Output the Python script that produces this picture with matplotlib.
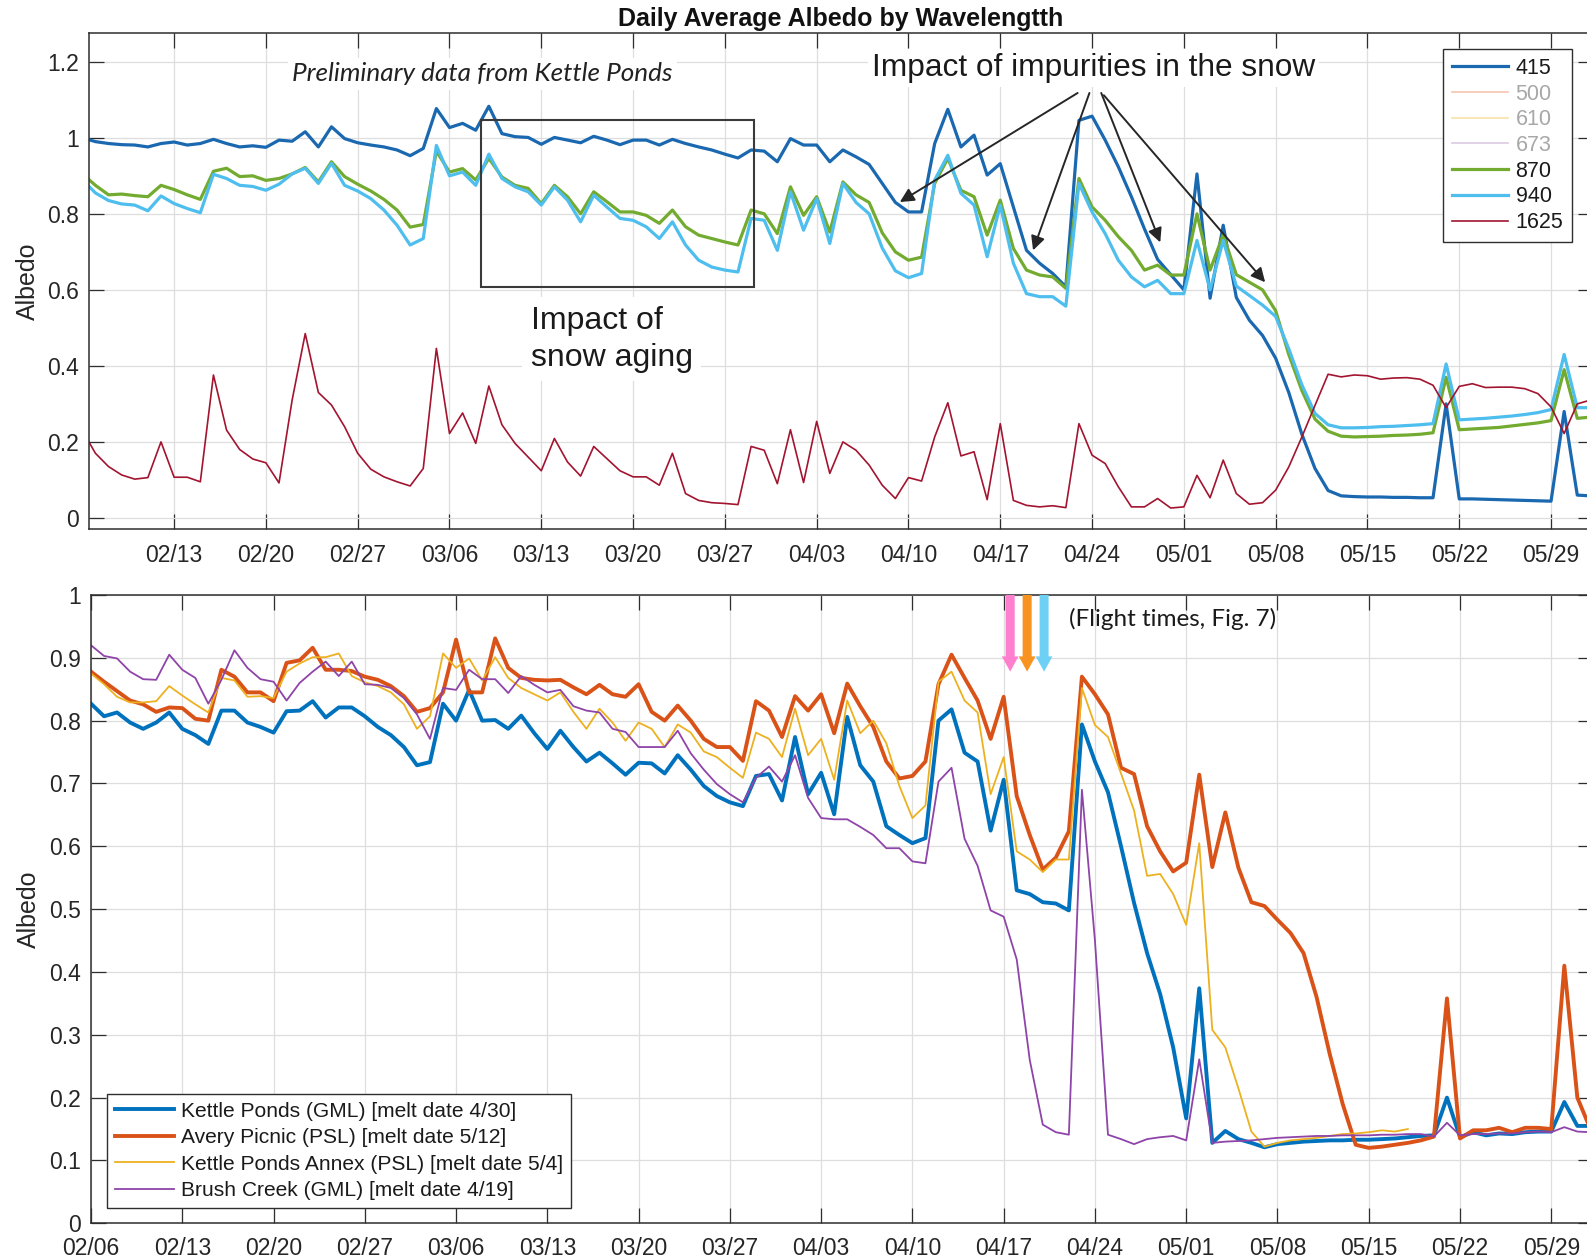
import numpy as np
import pandas as pd
import matplotlib
matplotlib.use("Agg")
import matplotlib.pyplot as plt
import matplotlib.dates as mdates
from matplotlib.patches import Rectangle
from matplotlib.ticker import FuncFormatter, FixedLocator

# ---------------------------------------------------------------- data
dates = pd.date_range("2023-02-06", periods=116, freq="D")
tick_dates = pd.date_range("2023-02-06", "2023-05-29", freq="7D")

wavelengths = ["415", "500", "610", "673", "870", "940", "1625"]

alb_415 = [
    1.000, 0.990, 0.985, 0.982, 0.981, 0.976, 0.985, 0.989, 0.981, 0.985,
    0.996, 0.985, 0.976, 0.979, 0.975, 0.994, 0.991, 1.016, 0.976, 1.029,
    0.998, 0.987, 0.981, 0.976, 0.968, 0.953, 0.972, 1.077, 1.027, 1.038,
    1.020, 1.083, 1.011, 1.003, 1.001, 0.983, 1.001, 0.994, 0.987, 1.004,
    0.994, 0.982, 0.994, 0.994, 0.981, 0.996, 0.985, 0.976, 0.968, 0.957,
    0.947, 0.968, 0.965, 0.937, 0.998, 0.981, 0.981, 0.937, 0.968, 0.950,
    0.930, 0.880, 0.830, 0.805, 0.805, 0.985, 1.075, 0.976, 1.007, 0.902,
    0.932, 0.818, 0.704, 0.670, 0.643, 0.608, 1.046, 1.057, 0.994, 0.924,
    0.845, 0.760, 0.680, 0.640, 0.600, 0.905, 0.578, 0.770, 0.580, 0.520,
    0.480, 0.420, 0.330, 0.220, 0.130, 0.072, 0.058, 0.056, 0.055, 0.055,
    0.054, 0.054, 0.053, 0.053, 0.300, 0.050, 0.050, 0.049, 0.048, 0.047,
    0.046, 0.045, 0.044, 0.280, 0.060, 0.058,
]
alb_870 = [
    0.905, 0.875, 0.850, 0.852, 0.848, 0.845, 0.875, 0.864, 0.850, 0.838,
    0.912, 0.920, 0.898, 0.900, 0.888, 0.893, 0.905, 0.922, 0.884, 0.937,
    0.898, 0.878, 0.860, 0.838, 0.810, 0.765, 0.772, 0.965, 0.910, 0.919,
    0.889, 0.946, 0.897, 0.875, 0.867, 0.827, 0.875, 0.845, 0.800, 0.858,
    0.832, 0.805, 0.805, 0.796, 0.775, 0.810, 0.766, 0.744, 0.735, 0.726,
    0.718, 0.810, 0.800, 0.748, 0.871, 0.796, 0.845, 0.752, 0.884, 0.850,
    0.830, 0.750, 0.700, 0.678, 0.686, 0.880, 0.946, 0.862, 0.845, 0.744,
    0.836, 0.709, 0.652, 0.639, 0.634, 0.604, 0.893, 0.818, 0.783, 0.740,
    0.704, 0.652, 0.665, 0.639, 0.639, 0.800, 0.652, 0.745, 0.640, 0.620,
    0.600, 0.545, 0.430, 0.335, 0.260, 0.228, 0.215, 0.213, 0.214, 0.215,
    0.217, 0.218, 0.220, 0.224, 0.370, 0.232, 0.234, 0.236, 0.238, 0.242,
    0.246, 0.250, 0.256, 0.390, 0.262, 0.265,
]
alb_940 = [
    0.890, 0.855, 0.835, 0.826, 0.823, 0.808, 0.847, 0.827, 0.814, 0.803,
    0.904, 0.893, 0.875, 0.872, 0.862, 0.878, 0.905, 0.920, 0.880, 0.933,
    0.875, 0.860, 0.840, 0.810, 0.770, 0.718, 0.735, 0.980, 0.900, 0.910,
    0.875, 0.957, 0.893, 0.871, 0.858, 0.823, 0.871, 0.836, 0.779, 0.849,
    0.818, 0.788, 0.783, 0.766, 0.735, 0.779, 0.718, 0.678, 0.660, 0.652,
    0.647, 0.788, 0.783, 0.704, 0.858, 0.757, 0.840, 0.722, 0.880, 0.830,
    0.800, 0.710, 0.650, 0.632, 0.643, 0.889, 0.954, 0.854, 0.823, 0.687,
    0.823, 0.670, 0.590, 0.582, 0.582, 0.557, 0.880, 0.805, 0.748, 0.678,
    0.634, 0.608, 0.625, 0.590, 0.590, 0.730, 0.600, 0.730, 0.610, 0.585,
    0.560, 0.530, 0.445, 0.350, 0.275, 0.245, 0.237, 0.237, 0.238, 0.240,
    0.241, 0.243, 0.245, 0.248, 0.405, 0.258, 0.260, 0.262, 0.265, 0.268,
    0.272, 0.277, 0.285, 0.430, 0.290, 0.290,
]
alb_1625 = [
    0.230, 0.170, 0.135, 0.113, 0.102, 0.106, 0.200, 0.107, 0.107, 0.095,
    0.376, 0.231, 0.180, 0.155, 0.145, 0.092, 0.310, 0.485, 0.330, 0.297,
    0.240, 0.170, 0.128, 0.108, 0.095, 0.084, 0.130, 0.446, 0.222, 0.276,
    0.196, 0.347, 0.245, 0.196, 0.160, 0.124, 0.209, 0.147, 0.110, 0.188,
    0.156, 0.124, 0.108, 0.108, 0.086, 0.170, 0.064, 0.046, 0.040, 0.038,
    0.035, 0.188, 0.178, 0.090, 0.232, 0.093, 0.254, 0.117, 0.200, 0.178,
    0.139, 0.086, 0.051, 0.106, 0.097, 0.213, 0.303, 0.163, 0.174, 0.048,
    0.248, 0.046, 0.033, 0.029, 0.032, 0.027, 0.248, 0.165, 0.143, 0.082,
    0.029, 0.029, 0.051, 0.026, 0.029, 0.112, 0.053, 0.152, 0.064, 0.036,
    0.040, 0.073, 0.134, 0.213, 0.296, 0.378, 0.371, 0.376, 0.374, 0.365,
    0.368, 0.369, 0.365, 0.349, 0.290, 0.346, 0.353, 0.343, 0.344, 0.344,
    0.340, 0.327, 0.292, 0.222, 0.300, 0.310,
]

sites = [
    "Kettle Ponds (GML) [melt date 4/30]",
    "Avery Picnic (PSL) [melt date 5/12]",
    "Kettle Ponds Annex (PSL) [melt date 5/4]",
    "Brush Creek (GML) [melt date 4/19]",
]
kettle_ponds = [
    0.827, 0.807, 0.813, 0.797, 0.787, 0.797, 0.813, 0.787, 0.777, 0.763,
    0.816, 0.816, 0.797, 0.790, 0.781, 0.815, 0.816, 0.831, 0.805, 0.821,
    0.821, 0.807, 0.790, 0.777, 0.758, 0.729, 0.734, 0.827, 0.800, 0.849,
    0.800, 0.801, 0.787, 0.808, 0.780, 0.755, 0.784, 0.758, 0.735, 0.749,
    0.732, 0.714, 0.733, 0.732, 0.716, 0.745, 0.722, 0.696, 0.680, 0.670,
    0.664, 0.712, 0.715, 0.673, 0.774, 0.683, 0.717, 0.651, 0.806, 0.729,
    0.703, 0.632, 0.618, 0.605, 0.613, 0.800, 0.818, 0.749, 0.735, 0.625,
    0.706, 0.530, 0.524, 0.511, 0.509, 0.498, 0.794, 0.735, 0.686, 0.600,
    0.510, 0.430, 0.365, 0.280, 0.167, 0.374, 0.128, 0.147, 0.134, 0.128,
    0.121, 0.126, 0.128, 0.130, 0.131, 0.132, 0.132, 0.133, 0.133, 0.134,
    0.135, 0.137, 0.139, 0.140, 0.200, 0.137, 0.145, 0.140, 0.143, 0.142,
    0.145, 0.146, 0.146, 0.193, 0.155, 0.155,
]
avery_picnic = [
    0.878, 0.862, 0.847, 0.832, 0.826, 0.814, 0.821, 0.820, 0.803, 0.800,
    0.881, 0.870, 0.845, 0.845, 0.831, 0.892, 0.896, 0.916, 0.881, 0.881,
    0.879, 0.870, 0.865, 0.855, 0.839, 0.814, 0.820, 0.845, 0.929, 0.845,
    0.845, 0.931, 0.884, 0.868, 0.865, 0.864, 0.865, 0.853, 0.842, 0.857,
    0.842, 0.838, 0.858, 0.814, 0.800, 0.824, 0.800, 0.771, 0.758, 0.758,
    0.736, 0.831, 0.816, 0.774, 0.839, 0.816, 0.842, 0.780, 0.859, 0.823,
    0.790, 0.735, 0.708, 0.712, 0.735, 0.858, 0.905, 0.868, 0.832, 0.771,
    0.838, 0.680, 0.618, 0.563, 0.582, 0.624, 0.870, 0.842, 0.810, 0.725,
    0.715, 0.632, 0.592, 0.560, 0.574, 0.714, 0.567, 0.654, 0.566, 0.511,
    0.505, 0.483, 0.462, 0.430, 0.360, 0.270, 0.190, 0.125, 0.120, 0.122,
    0.125, 0.128, 0.132, 0.138, 0.358, 0.135, 0.148, 0.148, 0.152, 0.145,
    0.152, 0.152, 0.150, 0.410, 0.200, 0.150,
]
nan = np.nan
kettle_ponds_annex = [
    0.875, 0.858, 0.838, 0.829, 0.829, 0.831, 0.855, 0.840, 0.826, 0.813,
    0.868, 0.864, 0.838, 0.839, 0.836, 0.878, 0.891, 0.901, 0.901, 0.907,
    0.871, 0.861, 0.855, 0.845, 0.826, 0.787, 0.807, 0.907, 0.884, 0.899,
    0.864, 0.901, 0.868, 0.852, 0.842, 0.832, 0.845, 0.814, 0.787, 0.819,
    0.797, 0.768, 0.797, 0.787, 0.758, 0.794, 0.781, 0.751, 0.742, 0.725,
    0.709, 0.781, 0.771, 0.742, 0.819, 0.745, 0.771, 0.706, 0.832, 0.780,
    0.800, 0.764, 0.696, 0.645, 0.665, 0.862, 0.878, 0.832, 0.813, 0.683,
    0.742, 0.592, 0.579, 0.559, 0.579, 0.579, 0.852, 0.793, 0.774, 0.716,
    0.657, 0.553, 0.556, 0.524, 0.475, 0.605, 0.308, 0.280, 0.215, 0.146,
    0.122, 0.128, 0.132, 0.134, 0.136, 0.139, 0.142, 0.143, 0.145, 0.148,
    0.146, 0.150, nan, nan, nan, nan, nan, nan, nan, nan,
    nan, nan, nan, nan, nan, nan,
]
brush_creek = [
    0.920, 0.903, 0.899, 0.878, 0.866, 0.865, 0.905, 0.881, 0.868, 0.827,
    0.865, 0.912, 0.884, 0.866, 0.862, 0.832, 0.860, 0.878, 0.894, 0.871,
    0.894, 0.858, 0.857, 0.852, 0.836, 0.810, 0.771, 0.852, 0.849, 0.881,
    0.866, 0.866, 0.844, 0.871, 0.857, 0.845, 0.849, 0.823, 0.816, 0.813,
    0.787, 0.782, 0.758, 0.758, 0.758, 0.784, 0.748, 0.722, 0.699, 0.683,
    0.670, 0.709, 0.727, 0.703, 0.745, 0.677, 0.645, 0.643, 0.643, 0.631,
    0.618, 0.597, 0.597, 0.576, 0.573, 0.703, 0.725, 0.612, 0.569, 0.498,
    0.488, 0.420, 0.260, 0.157, 0.145, 0.141, 0.690, 0.450, 0.141, 0.134,
    0.126, 0.134, 0.137, 0.139, 0.132, 0.261, 0.128, 0.130, 0.131, 0.132,
    0.134, 0.136, 0.137, 0.138, 0.139, 0.139, 0.140, 0.140, 0.140, 0.141,
    0.141, 0.142, 0.142, 0.138, 0.160, 0.140, 0.142, 0.142, 0.143, 0.143,
    0.145, 0.146, 0.145, 0.153, 0.146, 0.145,
]

# flight overpass times (days after 02/06) and their marker colours
flight_days = [70.5, 71.8, 73.1]
flight_colors = ["#ff7fcf", "#f7931e", "#6fd0f6"]

# ---------------------------------------------------------------- style
plt.rcParams["font.family"] = ["Liberation Sans", "DejaVu Sans"]
TXT = "#262626"
SPINE = "#2e2e2e"
GRID = "#dedede"
TICK_FS = 16.5

W, H = 1587, 1258
fig = plt.figure(figsize=(W / 100, H / 100), dpi=100)
ax1 = fig.add_axes([89 / W, 1 - 529.3 / H, (1593 - 89) / W, (529.3 - 33.3) / H])
ax2 = fig.add_axes([91 / W, 1 - 1223.3 / H, (1593 - 91) / W, (1223.3 - 595) / H])

base = mdates.date2num(pd.Timestamp("2023-02-06"))
xnum = mdates.date2num(dates)


def style_axes(ax, xlim, ylim, yticks, label_pad):
    ax.set_xlim(*xlim)
    ax.set_ylim(*ylim)
    ax.xaxis.set_major_locator(FixedLocator(mdates.date2num(tick_dates)))
    ax.xaxis.set_major_formatter(mdates.DateFormatter("%m/%d"))
    ax.yaxis.set_major_locator(FixedLocator(yticks))
    ax.yaxis.set_major_formatter(FuncFormatter(lambda v, p: f"{v:g}"))
    ax.tick_params(axis="both", direction="in", length=10.8, width=0.9,
                   top=True, right=True, colors=SPINE, labelcolor=TXT,
                   labelsize=TICK_FS)
    ax.tick_params(axis="x", pad=label_pad)
    ax.tick_params(axis="y", pad=7.2)
    ax.grid(True, color=GRID, lw=0.9)
    ax.set_axisbelow(True)
    for s in ax.spines.values():
        s.set_color(SPINE)
        s.set_linewidth(1.1)
    ax.set_ylabel("Albedo", fontsize=18, color=TXT)
    ax.yaxis.label.set_va("center")


# ---------------------------------------------------------------- top panel
top_series = {
    "415": (alb_415, "#1a68b0", 2.3),
    "500": (None, "#f6c3b1", 1.2),
    "610": (None, "#f7e1a9", 1.2),
    "673": (None, "#dccae2", 1.2),
    "870": (alb_870, "#72ab2f", 2.3),
    "940": (alb_940, "#4dbeee", 2.3),
    "1625": (alb_1625, "#a2142f", 1.2),
}
for name in wavelengths:
    vals, col, lw = top_series[name]
    if vals is None:
        ax1.plot([], [], color=col, lw=lw, label=name)
    else:
        ax1.plot(xnum, vals, color=col, lw=lw, label=name,
                 solid_joinstyle="round")

style_axes(ax1, (base + 0.51, base + 115.2), (-0.03, 1.275),
           [0, 0.2, 0.4, 0.6, 0.8, 1.0, 1.2], 10.5)
ax1.yaxis.set_label_coords((28 - 89) / 1504, 0.5)
ax1.set_title("Daily Average Albedo by Wavelengtth", fontsize=18,
              fontweight="bold", color="#111111", pad=5)

leg1 = ax1.legend(loc="upper right", bbox_to_anchor=(0.986, 0.968),
                  fontsize=15.5, handlelength=2.6, handletextpad=0.35,
                  labelspacing=0.22, borderpad=0.4, borderaxespad=0,
                  fancybox=False, framealpha=1, edgecolor=SPINE)
leg1.get_frame().set_linewidth(1.0)
for t in leg1.get_texts():
    t.set_color("#a8a8a8" if t.get_text() in ("500", "610", "673") else "#1a1a1a")

white_box = dict(facecolor="white", edgecolor="none", pad=3)
ax1.text(base + 30.5, 1.168, "Preliminary data from Kettle Ponds",
         family=["Lato", "DejaVu Sans"], style="italic", fontsize=18.8,
         color="#222222", ha="center", va="center", bbox=white_box)
ax1.text(base + 77.1, 1.183, "Impact of impurities in the snow",
         fontsize=22.8, color="#1a1a1a", ha="center", va="center", bbox=white_box)
ax1.text(base + 34.2, 0.470, "Impact of\nsnow aging", fontsize=23,
         color="#1a1a1a", ha="left", va="center", linespacing=1.32,
         bbox=dict(facecolor="white", edgecolor="none", pad=6))
ax1.add_patch(Rectangle((base + 30.4, 0.607), 20.8, 0.44, fill=False,
                        edgecolor="#3a3a3a", lw=1.5, zorder=4))

arrow_kw = dict(arrowstyle="-|>", color="#262626", lw=1.4,
                mutation_scale=21, shrinkA=0, shrinkB=0)
for (x0, y0), (x1, y1) in [((75.9, 1.118), (62.34, 0.831)),
                           ((76.8, 1.118), (72.5, 0.704)),
                           ((77.7, 1.118), (82.2, 0.725)),
                           ((77.9, 1.112), (90.2, 0.62))]:
    ax1.annotate("", xy=(base + x1, y1), xytext=(base + x0, y0),
                 arrowprops=arrow_kw, zorder=6)

# ---------------------------------------------------------------- bottom panel
site_series = [
    (kettle_ponds, "#0072bd", 2.8),
    (avery_picnic, "#d95319", 2.8),
    (kettle_ponds_annex, "#edb120", 1.3),
    (brush_creek, "#8e44a8", 1.3),
]
for name, (vals, col, lw) in zip(sites, site_series):
    ax2.plot(xnum, vals, color=col, lw=lw, label=name, solid_joinstyle="round")

style_axes(ax2, (base, base + 115.2), (0, 1),
           [round(0.1 * i, 1) for i in range(11)], 9.6)
ax2.yaxis.set_label_coords((29 - 91) / 1502, 0.5)

leg2 = ax2.legend(loc="lower left", bbox_to_anchor=(0.0107, 0.024),
                  fontsize=15.1, handlelength=2.8, handletextpad=0.33,
                  labelspacing=0.36, borderpad=0.38, borderaxespad=0,
                  fancybox=False, framealpha=1, edgecolor=SPINE)
leg2.get_frame().set_linewidth(1.0)
for t in leg2.get_texts():
    t.set_color("#1a1a1a")

for d, col in zip(flight_days, flight_colors):
    ax2.annotate("", xy=(base + d, 0.878), xytext=(base + d, 1.0),
                 arrowprops=dict(arrowstyle="simple,head_length=1.1,head_width=1.2,tail_width=0.65",
                                 mutation_scale=10, fc=col, ec="none",
                                 shrinkA=0, shrinkB=0),
                 annotation_clip=False, zorder=6)
ax2.text(base + 75.0, 0.962, "(Flight times, Fig. 7)",
         family=["Lato", "DejaVu Sans"], fontsize=17.5, color="#1a1a1a",
         ha="left", va="center")

fig.savefig("out.png", dpi=100, facecolor="white")
